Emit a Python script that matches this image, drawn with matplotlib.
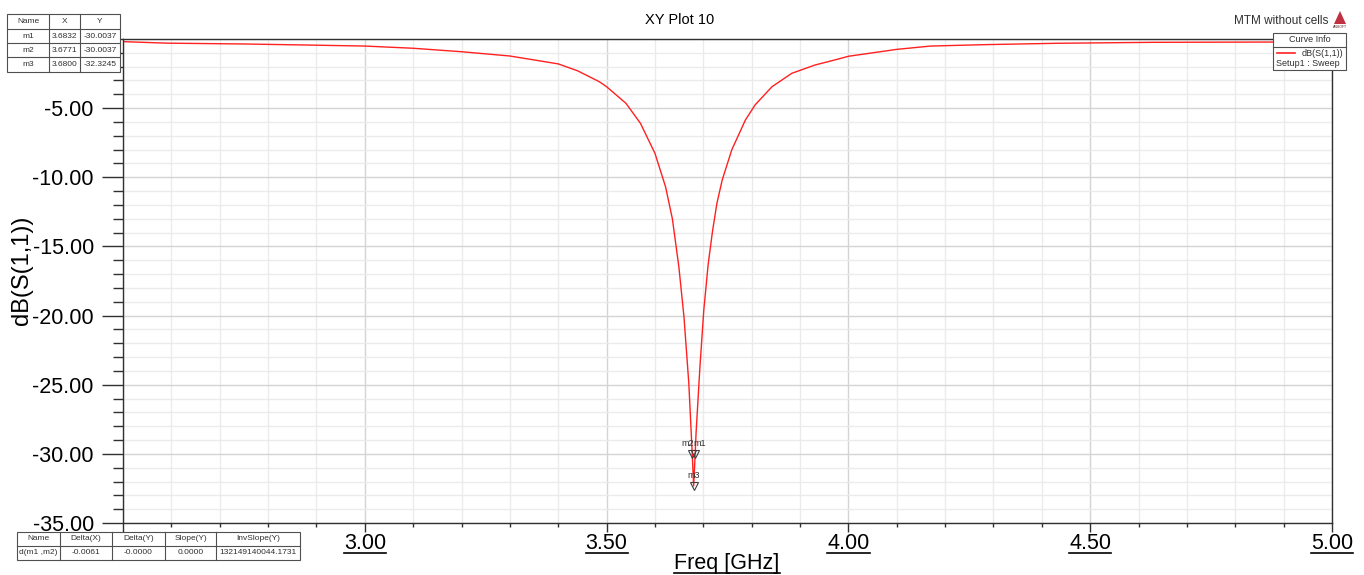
import numpy as np
import matplotlib
matplotlib.use("Agg")
from matplotlib import pyplot as plt
from matplotlib.lines import Line2D
from matplotlib.patches import Rectangle, Polygon

plt.rcParams['font.family'] = ['Liberation Sans', 'DejaVu Sans']

# curve
freq_ghz = [2.50, 2.59, 2.75, 2.87, 3.00, 3.10, 3.20, 3.30, 3.40, 3.44, 3.485,
            3.50, 3.54, 3.57, 3.60, 3.622, 3.636, 3.6495, 3.660, 3.670,
            3.6771, 3.6800, 3.6832, 3.685, 3.693, 3.701, 3.710, 3.719, 3.728,
            3.739, 3.759, 3.787, 3.807, 3.842, 3.883, 3.931, 3.979, 4.00,
            4.10, 4.17, 4.28, 4.43, 4.63, 4.87, 5.00]
s11_db = [-0.19, -0.30, -0.36, -0.43, -0.51, -0.67, -0.92, -1.23, -1.80, -2.30, -3.09,
          -3.45, -4.65, -6.10, -8.27, -10.7, -13.0, -16.5, -20.1, -24.9,
          -30.0037, -32.3245, -30.0037, -28.5, -23.7, -19.6, -16.3, -13.9, -11.9,
          -10.2, -8.0, -5.86, -4.77, -3.45, -2.48, -1.88, -1.45, -1.25,
          -0.75, -0.51, -0.41, -0.31, -0.24, -0.22, -0.20]

marker_names = ['m1', 'm2', 'm3']
marker_x = [3.6832, 3.6771, 3.6800]
marker_y = [-30.0037, -30.0037, -32.3245]

delta_header = ['Name', 'Delta(X)', 'Delta(Y)', 'Slope(Y)', 'InvSlope(Y)']
delta_row = ['d(m1 ,m2)', '-0.0061', '-0.0000', '0.0000', '132149140044.1731']

x_ticks = [2.5, 3.0, 3.5, 4.0, 4.5, 5.0]
y_ticks = [-35, -30, -25, -20, -15, -10, -5, 0]
# labels covered by the marker tables in the picture
x_hidden = [2.5]
y_hidden = [0]

W, H = 1364, 575
fig = plt.figure(figsize=(W / 100, H / 100), dpi=100)


def fx(px):
    return px / W


def fy(py):
    return 1 - py / H


ax = fig.add_axes([fx(123), fy(523), fx(1332) - fx(123), fy(39) - fy(523)])
ax.set_xlim(2.5, 5.0)
ax.set_ylim(-35, 0)
ax.set_xticks(x_ticks)
ax.set_xticks(np.arange(2.5, 5.001, 0.1), minor=True)
ax.set_yticks(y_ticks)
ax.set_yticks(np.arange(-35, 0.001, 1), minor=True)
ax.set_xticklabels(['' if v in x_hidden else '%.2f' % v for v in x_ticks])
ax.set_yticklabels(['' if v in y_hidden else '%.2f' % v for v in y_ticks])
ax.grid(which='minor', color='#ebebeb', lw=1)
ax.grid(which='major', color='#d4d4d4', lw=1)
ax.set_axisbelow(True)
for s in ax.spines.values():
    s.set_color('#303030')
    s.set_linewidth(1)
ax.tick_params(axis='y', which='major', length=15, width=1, pad=6, labelsize=15.5, color='#303030')
ax.tick_params(axis='y', which='minor', length=7, width=1, color='#303030')
ax.tick_params(axis='x', which='major', length=6.5, width=1, pad=1, labelsize=15.5, color='#303030')
ax.tick_params(axis='x', which='minor', length=3, width=1, color='#303030')

ax.plot(freq_ghz, s11_db, color='#ff2020', lw=1)

# markers
ax.plot(marker_x, marker_y, ls='none', marker='v', ms=6, mfc='none', mec='#404040', mew=0.8)
label_align = {'m1': ('left', -1), 'm2': ('right', 1), 'm3': ('center', 0)}
for n, mx, my in zip(marker_names, marker_x, marker_y):
    ha, dx = label_align[n]
    ax.annotate(n, (mx, my), xytext=(dx, 4), textcoords='offset points',
                ha=ha, va='bottom', fontsize=6.5, color='#303030')

# labels and titles
fig.text(fx(680), fy(20), 'XY Plot 10', ha='center', va='center', fontsize=10.5)
fig.text(fx(1328), fy(21), 'MTM without cells', ha='right', va='center', fontsize=8.5, color='#303030')
fig.add_artist(Polygon([[fx(1334), fy(24)], [fx(1346), fy(24)], [fx(1340), fy(11)]],
                       closed=True, transform=fig.transFigure, fc='#c03040', ec='none'))
fig.text(fx(1340), fy(27), 'ANSOFT', ha='center', va='center', fontsize=2.5, color='#602020')
xlab = fig.text(fx(727), fy(563), 'Freq [GHz]', ha='center', va='center', fontsize=15.5)
fig.text(fx(22), fy(270), 'dB(S(1,1))', ha='center', va='center', rotation=90, fontsize=17)


def table(xs, ys, rows, fs):
    fig.add_artist(Rectangle((fx(xs[0]), fy(ys[-1])), fx(xs[-1]) - fx(xs[0]), fy(ys[0]) - fy(ys[-1]),
                             transform=fig.transFigure, fc='white', ec='#505050', lw=0.8, zorder=5))
    for x in xs[1:-1]:
        fig.add_artist(Line2D([fx(x), fx(x)], [fy(ys[0]), fy(ys[-1])], transform=fig.transFigure,
                              color='#505050', lw=0.8, zorder=6))
    for y in ys[1:-1]:
        fig.add_artist(Line2D([fx(xs[0]), fx(xs[-1])], [fy(y), fy(y)], transform=fig.transFigure,
                              color='#505050', lw=0.8, zorder=6))
    for r, row in enumerate(rows):
        for c, txt in enumerate(row):
            fig.text(fx((xs[c] + xs[c + 1]) / 2), fy((ys[r] + ys[r + 1]) / 2), txt, ha='center',
                     va='center', fontsize=fs, color='#303030', zorder=7)


marker_rows = [['Name', 'X', 'Y']] + [[n, '%.4f' % x, '%.4f' % y]
                                       for n, x, y in zip(marker_names, marker_x, marker_y)]
table([7, 49, 80, 120], [14, 29, 43, 57, 72], marker_rows, 6)
table([17, 60, 112, 165, 216, 300], [532, 546, 560], [delta_header, delta_row], 6)

# curve info box
table([1273, 1346], [33, 47, 70], [['Curve Info'], ['']], 6.5)
fig.add_artist(Line2D([fx(1277), fx(1295)], [fy(53), fy(53)], transform=fig.transFigure,
                      color='#ff2020', lw=1.2, zorder=8))
fig.text(fx(1343), fy(53), 'dB(S(1,1))', ha='right', va='center', fontsize=6.5, color='#303030', zorder=8)
fig.text(fx(1276), fy(63), 'Setup1 : Sweep', ha='left', va='center', fontsize=6.5, color='#303030', zorder=8)

# underline x tick labels and x label
fig.canvas.draw()
r = fig.canvas.get_renderer()
inv = fig.transFigure.inverted()
for t in list(ax.get_xticklabels()) + [xlab]:
    if not t.get_visible() or t.get_text() == '':
        continue
    bb = t.get_window_extent(r)
    (x0, y0), (x1, _) = inv.transform([[bb.x0, bb.y0 + 1], [bb.x1, bb.y0 + 1]])
    fig.add_artist(Line2D([x0, x1], [y0, y0], transform=fig.transFigure, color='black', lw=1.2, zorder=4))

fig.savefig('out.png', dpi=100)
